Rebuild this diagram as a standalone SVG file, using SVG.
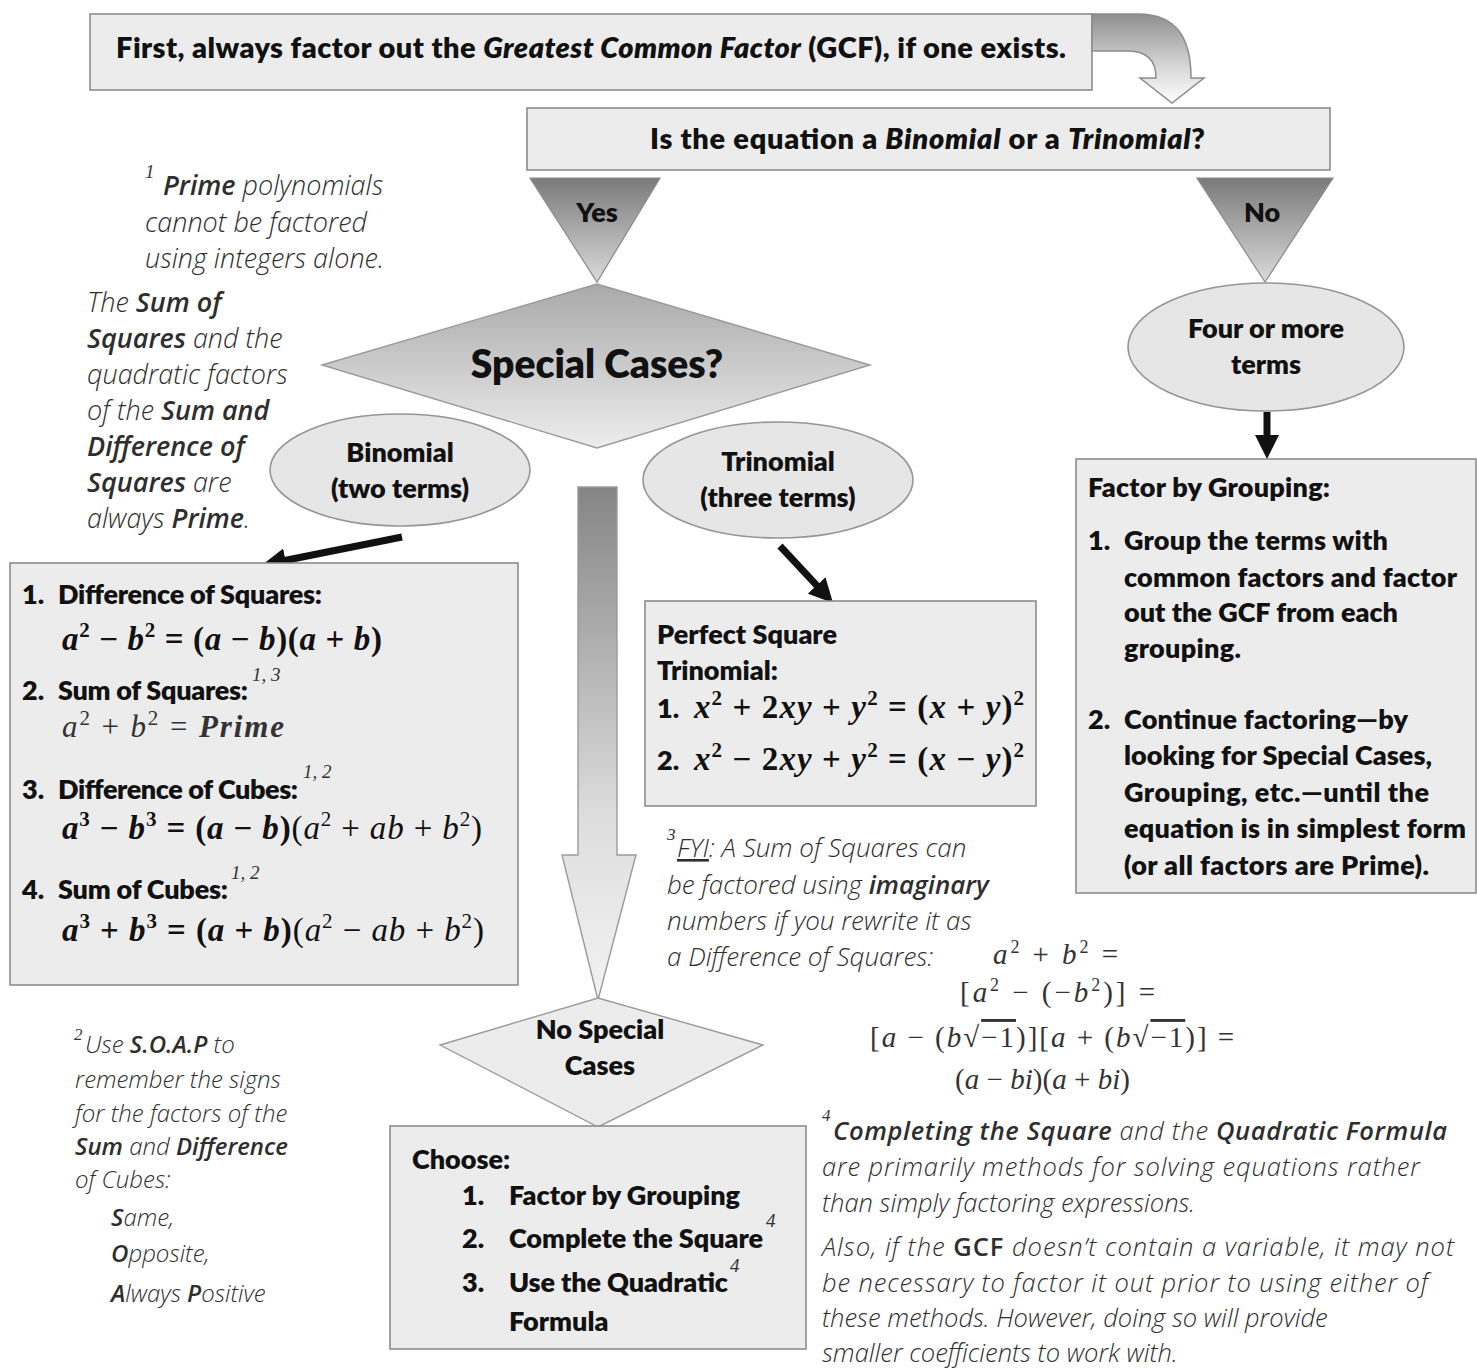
<svg xmlns="http://www.w3.org/2000/svg" width="1477" height="1370" viewBox="0 0 1477 1370">
<defs>
  <linearGradient id="gTri" x1="0" y1="0" x2="0" y2="1">
    <stop offset="0" stop-color="#7a7a7a"/><stop offset="1" stop-color="#dadada"/>
  </linearGradient>
  <linearGradient id="gDia" x1="0" y1="0" x2="0" y2="1">
    <stop offset="0" stop-color="#a9a9a9"/><stop offset="1" stop-color="#ededed"/>
  </linearGradient>
  <linearGradient id="gShaft" x1="0" y1="487" x2="0" y2="1000" gradientUnits="userSpaceOnUse">
    <stop offset="0" stop-color="#858585"/><stop offset="0.65" stop-color="#dedede"/><stop offset="1" stop-color="#f2f2f2"/>
  </linearGradient>
  <linearGradient id="gCurve" x1="0" y1="0" x2="0" y2="1">
    <stop offset="0" stop-color="#8f8f8f"/><stop offset="0.6" stop-color="#d8d8d8"/><stop offset="1" stop-color="#ffffff"/>
  </linearGradient>
  <marker id="ah" viewBox="0 0 10 10" refX="3" refY="5" markerWidth="24" markerHeight="24" markerUnits="userSpaceOnUse" orient="auto">
    <path d="M0,0 L10,5 L0,10 z" fill="#111"/>
  </marker>
</defs>
<style>
  .box{fill:#ececec;stroke:#8c8c8c;stroke-width:1.6}
  .ell{fill:#e6e6e6;stroke:#959595;stroke-width:1.6}
  .b{font-family:Lato,'Open Sans',sans-serif;font-weight:800;fill:#111;font-size:27px}
  .c{text-anchor:middle}
  .n{font-family:'Open Sans',Lato,sans-serif;font-style:italic;font-weight:300;fill:#2e2e2e;font-size:27px}
  .n2{font-size:24px}
  .n3{font-size:26px}
  .n4{font-size:25.5px}
  .nb{font-weight:600}
  .fs{font-family:'Liberation Serif',serif;font-style:italic;fill:#333;font-size:19px}
  .mb{font-family:'Liberation Serif',serif;font-weight:700;fill:#111;font-size:33px}
  .mr{font-family:'Liberation Serif',serif;font-weight:400;fill:#333}
  .fm{font-size:29px}
  .i{font-style:italic}
  .s{font-size:21px}
  .s2{font-size:18px}
  .conn{stroke:#111;stroke-width:7;fill:none;marker-end:url(#ah)}
</style>

<g id="gcf-box">
  <rect class="box" x="90" y="14" width="1002" height="76"/>
  <text class="b" x="116" y="58" style="font-size:29px" textLength="950">First, always factor out the <tspan class="i">Greatest Common Factor</tspan> (GCF), if one exists.</text>
</g>

<g id="curve-arrow">
  <path d="M1092,14 L1138,14 C1178,14 1191,40 1191,78 L1204,78 L1172,103 L1140,78 L1156,78 C1156,62 1148,51 1128,51 L1092,51 Z" fill="url(#gCurve)" stroke="#8c8c8c" stroke-width="1.5"/>
</g>

<g id="question-box">
  <rect class="box" x="527" y="108" width="803" height="62"/>
  <text class="b" x="650" y="149" style="font-size:29px" textLength="555">Is the equation a <tspan class="i">Binomial</tspan> or a <tspan class="i">Trinomial</tspan>?</text>
</g>

<g id="yes">
  <polygon points="530,178 660,178 597,282" fill="url(#gTri)" stroke="#8a8a8a" stroke-width="1.2"/>
  <text class="b c" x="597" y="222">Yes</text>
</g>
<g id="no">
  <polygon points="1197,178 1333,178 1265,282" fill="url(#gTri)" stroke="#8a8a8a" stroke-width="1.2"/>
  <text class="b c" x="1262" y="222">No</text>
</g>

<g id="special-cases">
  <polygon points="322,365 597,284 870,365 597,448" fill="url(#gDia)" stroke="#9a9a9a" stroke-width="1.4"/>
  <text class="b c" x="597" y="378" style="font-size:39px">Special Cases?</text>
</g>

<g id="binomial">
  <ellipse class="ell" cx="400" cy="470" rx="130" ry="56"/>
  <text class="b c" x="400" y="462">Binomial</text>
  <text class="b c" x="400" y="498">(two terms)</text>
</g>

<g id="trinomial">
  <ellipse class="ell" cx="778" cy="480" rx="135" ry="58"/>
  <text class="b c" x="778" y="471">Trinomial</text>
  <text class="b c" x="778" y="507">(three terms)</text>
</g>

<g id="four-terms">
  <ellipse class="ell" cx="1266" cy="347" rx="138" ry="64"/>
  <text class="b c" x="1266" y="338">Four or more</text>
  <text class="b c" x="1266" y="374">terms</text>
</g>

<g id="connectors">
  <line class="conn" x1="402" y1="537" x2="278.5" y2="561.7"/>
  <line class="conn" x1="780" y1="546" x2="821.6" y2="590.7"/>
  <line class="conn" x1="1267" y1="412" x2="1267" y2="442.2"/>
  <path d="M578,487 L617,487 L617,855 L636,855 L598,1000 L562,855 L578,855 Z" fill="url(#gShaft)" stroke="#9a9a9a" stroke-width="1.4"/>
</g>

<g id="binomial-box">
  <rect class="box" x="10" y="563" width="508" height="422"/>
  <text class="b" x="22" y="604">1.</text>
  <text class="b" x="58" y="604" textLength="264">Difference of Squares:</text>
  <text class="mb" x="62" y="650" textLength="320"><tspan class="i">a</tspan><tspan class="s" dy="-13">2</tspan><tspan dy="13"> − </tspan><tspan class="i">b</tspan><tspan class="s" dy="-13">2</tspan><tspan dy="13"> = (</tspan><tspan class="i">a</tspan> − <tspan class="i">b</tspan>)(<tspan class="i">a</tspan> + <tspan class="i">b</tspan>)</text>
  <text class="b" x="22" y="700">2.</text>
  <text class="b" x="58" y="700" textLength="190">Sum of Squares:</text>
  <text class="fs" x="252" y="681">1, 3</text>
  <text class="mr" x="62" y="737" font-size="31" textLength="222"><tspan class="i">a</tspan><tspan class="s" dy="-12">2</tspan><tspan dy="12"> + </tspan><tspan class="i">b</tspan><tspan class="s" dy="-12">2</tspan><tspan dy="12"> = </tspan><tspan class="i" font-weight="700">Prime</tspan></text>
  <text class="b" x="22" y="799">3.</text>
  <text class="b" x="58" y="799" textLength="240">Difference of Cubes:</text>
  <text class="fs" x="303" y="778">1, 2</text>
  <text class="mb" x="62" y="839" textLength="420"><tspan class="i">a</tspan><tspan class="s" dy="-13">3</tspan><tspan dy="13"> − </tspan><tspan class="i">b</tspan><tspan class="s" dy="-13">3</tspan><tspan dy="13"> = (</tspan><tspan class="i">a</tspan> − <tspan class="i">b</tspan>)<tspan font-weight="400">(</tspan><tspan class="i" font-weight="400">a</tspan><tspan class="s" font-weight="400" dy="-13">2</tspan><tspan font-weight="400" dy="13"> + </tspan><tspan class="i" font-weight="400">ab</tspan><tspan font-weight="400"> + </tspan><tspan class="i" font-weight="400">b</tspan><tspan class="s" font-weight="400" dy="-13">2</tspan><tspan font-weight="400" dy="13">)</tspan></text>
  <text class="b" x="22" y="899">4.</text>
  <text class="b" x="58" y="899" textLength="170">Sum of Cubes:</text>
  <text class="fs" x="231" y="879">1, 2</text>
  <text class="mb" x="62" y="941" textLength="422"><tspan class="i">a</tspan><tspan class="s" dy="-13">3</tspan><tspan dy="13"> + </tspan><tspan class="i">b</tspan><tspan class="s" dy="-13">3</tspan><tspan dy="13"> = (</tspan><tspan class="i">a</tspan> + <tspan class="i">b</tspan>)<tspan font-weight="400">(</tspan><tspan class="i" font-weight="400">a</tspan><tspan class="s" font-weight="400" dy="-13">2</tspan><tspan font-weight="400" dy="13"> − </tspan><tspan class="i" font-weight="400">ab</tspan><tspan font-weight="400"> + </tspan><tspan class="i" font-weight="400">b</tspan><tspan class="s" font-weight="400" dy="-13">2</tspan><tspan font-weight="400" dy="13">)</tspan></text>
</g>

<g id="perfect-square-box">
  <rect class="box" x="645" y="601" width="391" height="205"/>
  <text class="b" x="657" y="644" textLength="180">Perfect Square</text>
  <text class="b" x="657" y="680">Trinomial:</text>
  <text class="b" x="657" y="718">1.</text>
  <text class="mb" x="694" y="718" textLength="330"><tspan class="i">x</tspan><tspan class="s" dy="-13">2</tspan><tspan dy="13"> + 2</tspan><tspan class="i">xy</tspan> + <tspan class="i">y</tspan><tspan class="s" dy="-13">2</tspan><tspan dy="13"> = (</tspan><tspan class="i">x</tspan> + <tspan class="i">y</tspan>)<tspan class="s" dy="-13">2</tspan></text>
  <text class="b" x="657" y="770">2.</text>
  <text class="mb" x="694" y="770" textLength="330"><tspan class="i">x</tspan><tspan class="s" dy="-13">2</tspan><tspan dy="13"> − 2</tspan><tspan class="i">xy</tspan> + <tspan class="i">y</tspan><tspan class="s" dy="-13">2</tspan><tspan dy="13"> = (</tspan><tspan class="i">x</tspan> − <tspan class="i">y</tspan>)<tspan class="s" dy="-13">2</tspan></text>
</g>

<g id="grouping-box">
  <rect class="box" x="1076" y="459" width="400" height="434"/>
  <text class="b" x="1088" y="497" textLength="242">Factor by Grouping:</text>
  <text class="b" x="1088" y="550">1.</text>
  <text class="b" x="1124" y="550" textLength="264">Group the terms with</text>
  <text class="b" x="1124" y="587" textLength="333">common factors and factor</text>
  <text class="b" x="1124" y="622" textLength="274">out the GCF from each</text>
  <text class="b" x="1124" y="658" textLength="117">grouping.</text>
  <text class="b" x="1088" y="729">2.</text>
  <text class="b" x="1124" y="729" textLength="284">Continue factoring—by</text>
  <text class="b" x="1124" y="765" textLength="308">looking for Special Cases,</text>
  <text class="b" x="1124" y="802" textLength="305">Grouping, etc.—until the</text>
  <text class="b" x="1124" y="838" textLength="342">equation is in simplest form</text>
  <text class="b" x="1124" y="875" textLength="305">(or all factors are Prime).</text>
</g>

<g id="no-special">
  <polygon points="440,1045 598,998 763,1045 598,1127" fill="#ececec" stroke="#9a9a9a" stroke-width="1.4"/>
  <text class="b c" x="600" y="1039">No Special</text>
  <text class="b c" x="600" y="1075">Cases</text>
</g>

<g id="choose-box">
  <rect class="box" x="390" y="1126" width="416" height="223"/>
  <text class="b" x="412" y="1169">Choose:</text>
  <text class="b" x="462" y="1205">1.</text>
  <text class="b" x="509" y="1205" textLength="231">Factor by Grouping</text>
  <text class="b" x="462" y="1248">2.</text>
  <text class="b" x="509" y="1248" textLength="254">Complete the Square</text>
  <text class="fs" x="766" y="1227">4</text>
  <text class="b" x="462" y="1292">3.</text>
  <text class="b" x="509" y="1292" textLength="219">Use the Quadratic</text>
  <text class="fs" x="730" y="1272">4</text>
  <text class="b" x="509" y="1331">Formula</text>
</g>

<g id="note-1">
  <text class="fs" x="145" y="178">1</text>
  <text class="n" x="163" y="195"><tspan class="nb">Prime</tspan> polynomials</text>
  <text class="n" x="145" y="232">cannot be factored</text>
  <text class="n" x="145" y="268">using integers alone.</text>
  <text class="n" x="87" y="312">The <tspan class="nb">Sum of</tspan></text>
  <text class="n" x="87" y="348"><tspan class="nb">Squares</tspan> and the</text>
  <text class="n" x="87" y="384">quadratic factors</text>
  <text class="n" x="87" y="420">of the <tspan class="nb">Sum and</tspan></text>
  <text class="n" x="87" y="456"><tspan class="nb">Difference of</tspan></text>
  <text class="n" x="87" y="492"><tspan class="nb">Squares</tspan> are</text>
  <text class="n" x="87" y="528">always <tspan class="nb">Prime</tspan>.</text>
</g>

<g id="note-2">
  <text class="fs" x="74" y="1040" style="font-size:17px">2</text>
  <text class="n n2" x="85" y="1053">Use <tspan class="nb">S.O.A.P</tspan> to</text>
  <text class="n n2" x="75" y="1088">remember the signs</text>
  <text class="n n2" x="75" y="1122">for the factors of the</text>
  <text class="n n2" x="75" y="1155"><tspan class="nb">Sum</tspan> and <tspan class="nb">Difference</tspan></text>
  <text class="n n2" x="75" y="1188">of Cubes:</text>
  <text class="n n2" x="111" y="1226"><tspan class="nb">S</tspan>ame,</text>
  <text class="n n2" x="111" y="1262"><tspan class="nb">O</tspan>pposite,</text>
  <text class="n n2" x="111" y="1302"><tspan class="nb">A</tspan>lways <tspan class="nb">P</tspan>ositive</text>
</g>

<g id="note-3">
  <text class="fs" x="667" y="840" style="font-size:17px">3</text>
  <text class="n n3" x="677" y="857"><tspan text-decoration="underline">FYI</tspan>:   A Sum of Squares can</text>
  <text class="n n3" x="667" y="894">be factored using <tspan class="nb">imaginary</tspan></text>
  <text class="n n3" x="667" y="930">numbers if you rewrite it as</text>
  <text class="n n3" x="667" y="966">a Difference of Squares:</text>
  <text class="mr fm" x="993" y="964" textLength="125"><tspan class="i">a</tspan><tspan class="s2" dy="-11">2</tspan><tspan dy="11"> + </tspan><tspan class="i">b</tspan><tspan class="s2" dy="-11">2</tspan><tspan dy="11"> =</tspan></text>
  <text class="mr fm" x="960" y="1002" textLength="195">[<tspan class="i">a</tspan><tspan class="s2" dy="-11">2</tspan><tspan dy="11"> − (−</tspan><tspan class="i">b</tspan><tspan class="s2" dy="-11">2</tspan><tspan dy="11">)] =</tspan></text>
  <text class="mr fm" x="870" y="1047" letter-spacing="2">[<tspan class="i">a</tspan> − (<tspan class="i">b</tspan>√<tspan text-decoration="overline">−1</tspan>)][<tspan class="i">a</tspan> + (<tspan class="i">b</tspan>√<tspan text-decoration="overline">−1</tspan>)] =</text>
  <text class="mr fm" x="955" y="1089" textLength="175">(<tspan class="i">a</tspan> − <tspan class="i">bi</tspan>)(<tspan class="i">a</tspan> + <tspan class="i">bi</tspan>)</text>
</g>

<g id="note-4">
  <text class="fs" x="822" y="1121" style="font-size:17px">4</text>
  <text class="n n4" x="833" y="1140" textLength="614"><tspan class="nb">Completing the Square</tspan> and the <tspan class="nb">Quadratic Formula</tspan></text>
  <text class="n n4" x="822" y="1176" textLength="598">are primarily methods for solving equations rather</text>
  <text class="n n4" x="822" y="1212">than simply factoring expressions.</text>
  <text class="n n4" x="822" y="1256" textLength="632">Also, if the <tspan class="nb" font-style="normal">GCF</tspan> doesn’t contain a variable, it may not</text>
  <text class="n n4" x="822" y="1292" textLength="606">be necessary to factor it out prior to using either of</text>
  <text class="n n4" x="822" y="1327">these methods. However, doing so will provide</text>
  <text class="n n4" x="822" y="1362">smaller coefficients to work with.</text>
</g>
</svg>
